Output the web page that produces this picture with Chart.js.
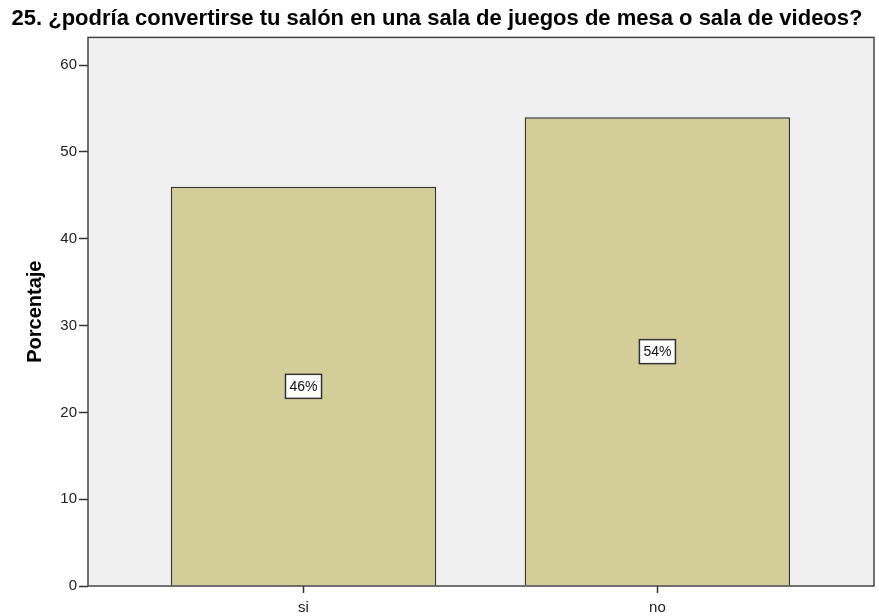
<!DOCTYPE html>
<html>
<head>
    <meta charset="utf-8">
    <title>Porcentaje - salón</title>
    <style>
        body {
            margin: 0;
            background-color: #fff;
        }

        #wrap {
            position: relative;
            width: 879px;
            height: 616px;
        }
    </style>
    <script src="https://cdn.jsdelivr.net/npm/chart.js"></script>
</head>
<body>
    <div id="wrap">
        <canvas id="chart"></canvas>
    </div>
    <script>
        // data
        var categories = ['si', 'no'];
        var percents = [46, 54];
        var yTicks = [0, 10, 20, 30, 40, 50, 60];
        var yMax = 63.2;

        var fontFamily = 'Arial, "Liberation Sans", sans-serif';

        // plot background and frame
        var framePlugin = {
            id: 'frame',
            beforeDatasetsDraw: function(chart) {
                var a = chart.chartArea;
                var ctx = chart.ctx;
                ctx.save();
                ctx.fillStyle = '#f0f0f0';
                ctx.fillRect(a.left, a.top, a.right - a.left, a.bottom - a.top);
                ctx.restore();
            },
            afterDatasetsDraw: function(chart) {
                var a = chart.chartArea;
                var ctx = chart.ctx;
                ctx.save();
                ctx.strokeStyle = '#444';
                ctx.lineWidth = 1.5;
                ctx.strokeRect(a.left, a.top, a.right - a.left, a.bottom - a.top);
                ctx.restore();
            }
        };

        // boxed percent labels in the middle of each bar
        var labelPlugin = {
            id: 'pctLabels',
            afterDraw: function(chart) {
                var ctx = chart.ctx;
                var yScale = chart.scales.y;
                var meta = chart.getDatasetMeta(0);
                ctx.save();
                ctx.font = '14px ' + fontFamily;
                ctx.textAlign = 'center';
                ctx.textBaseline = 'middle';
                meta.data.forEach(function(bar, i) {
                    var text = percents[i] + '%';
                    var y = yScale.getPixelForValue(percents[i] / 2);
                    var w = ctx.measureText(text).width + 8;
                    var h = 24;
                    ctx.fillStyle = '#fff';
                    ctx.fillRect(bar.x - w / 2, y - h / 2, w, h);
                    ctx.strokeStyle = '#333';
                    ctx.lineWidth = 1.5;
                    ctx.strokeRect(bar.x - w / 2, y - h / 2, w, h);
                    ctx.fillStyle = '#111';
                    ctx.fillText(text, bar.x, y + 1);
                });
                ctx.restore();
            }
        };

        var points = categories.map(function(c, i) {
            return { x: i + 1, y: percents[i] };
        });

        new Chart(document.getElementById('chart'), {
            type: 'bar',
            data: {
                datasets: [{
                    data: points,
                    backgroundColor: '#d3ce97',
                    borderColor: '#333',
                    borderWidth: 1.5,
                    barPercentage: 0.75,
                    categoryPercentage: 1
                }]
            },
            options: {
                responsive: true,
                maintainAspectRatio: false,
                animation: false,
                layout: {
                    padding: { right: 5, left: 0, bottom: 0, top: 0 }
                },
                plugins: {
                    legend: { display: false },
                    tooltip: { enabled: false },
                    title: {
                        display: true,
                        text: '25. ¿podría convertirse tu salón en una sala de juegos de mesa o sala de videos?',
                        color: '#000',
                        font: { family: fontFamily, size: 22, weight: 'bold' },
                        padding: { top: 6, bottom: 5 }
                    }
                },
                scales: {
                    x: {
                        type: 'linear',
                        min: 0.391,
                        max: 2.612,
                        offset: false,
                        afterBuildTicks: function(scale) {
                            scale.ticks = categories.map(function(c, i) {
                                return { value: i + 1 };
                            });
                        },
                        afterFit: function(scale) {
                            scale.height = 30;
                        },
                        grid: {
                            offset: false,
                            drawOnChartArea: false,
                            drawTicks: true,
                            tickLength: 7,
                            tickWidth: 1.5,
                            tickColor: '#333'
                        },
                        border: { display: false },
                        ticks: {
                            autoSkip: false,
                            maxRotation: 0,
                            padding: 6,
                            color: '#222',
                            font: { family: fontFamily, size: 15 },
                            callback: function(v) {
                                return categories[v - 1];
                            }
                        }
                    },
                    y: {
                        min: 0,
                        max: yMax,
                        afterBuildTicks: function(scale) {
                            scale.ticks = yTicks.map(function(v) {
                                return { value: v };
                            });
                        },
                        afterFit: function(scale) {
                            scale.width = 88;
                        },
                        grid: {
                            drawOnChartArea: false,
                            drawTicks: true,
                            tickLength: 9,
                            tickWidth: 1.5,
                            tickColor: '#333'
                        },
                        border: { display: false },
                        ticks: {
                            padding: 2,
                            color: '#222',
                            font: { family: fontFamily, size: 15 }
                        },
                        title: {
                            display: true,
                            text: 'Porcentaje',
                            color: '#000',
                            font: { family: fontFamily, size: 20, weight: 'bold' },
                            padding: { top: 23, bottom: 0 }
                        }
                    }
                }
            },
            plugins: [framePlugin, labelPlugin]
        });
    </script>
</body>
</html>
